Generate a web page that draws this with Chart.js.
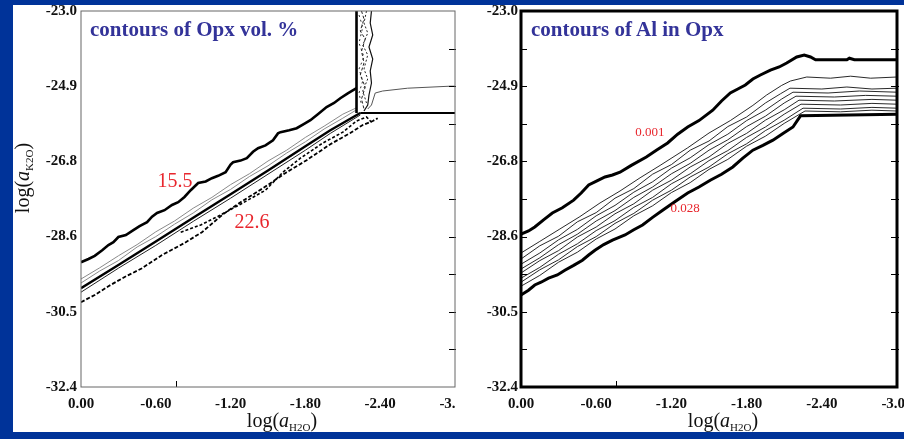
<!DOCTYPE html>
<html>
<head>
<meta charset="utf-8">
<script src="https://cdn.jsdelivr.net/npm/chart.js@4.4.1/dist/chart.umd.min.js"></script>
<style>
  html, body { margin: 0; padding: 0; }
  body { width: 904px; height: 439px; background: #003399; position: relative; overflow: hidden; font-family: "Liberation Serif", "Times New Roman", serif; }
  #sheet { position: absolute; left: 13px; top: 5px; width: 891px; height: 427px; background: #fff; }
  canvas { position: absolute; }
  #left { left: 13px; top: 5px; }
  #right { left: 456px; top: 5px; }
  .ttl { position: absolute; font-weight: bold; font-size: 21px; line-height: 21px; color: #333399; white-space: nowrap; }
  .axt { position: absolute; font-size: 20px; line-height: 20px; color: #111; text-align: center; white-space: nowrap; }
  .axt sub { font-size: 11px; line-height: 0; vertical-align: -4px; }
</style>
</head>
<body>
<div id="sheet"></div>
<canvas id="left" width="443" height="427"></canvas>
<canvas id="right" width="448" height="427"></canvas>
<div class="ttl" style="left:90px;top:19px">contours of Opx vol. %</div>
<div class="ttl" style="left:531px;top:19px">contours of Al in Opx</div>
<div class="axt" style="left:132px;top:410px;width:300px">log(<i>a</i><sub>H2O</sub>)</div>
<div class="axt" style="left:573px;top:410px;width:300px">log(<i>a</i><sub>H2O</sub>)</div>
<div class="axt" style="left:-38px;top:168px;width:120px;transform:rotate(-90deg)">log(<i>a</i><sub>K2O</sub>)</div>
<script>
const xTickValues = [0, -0.6, -1.2, -1.8, -2.4, -3.0]
const xTickLabels = ['0.00', '-0.60', '-1.20', '-1.80', '-2.40', '-3.00']
const yTickValues = [-32.4, -30.52, -28.64, -26.76, -24.88, -23.0]
const yTickLabels = ['-32.4', '-30.5', '-28.6', '-26.8', '-24.9', '-23.0']
const yMinorValues = [-31.46, -30.52, -29.58, -28.64, -27.70, -26.76, -25.82, -24.88, -23.94]
const xInnerTicks = [-0.76]

// left panel: Opx vol. %
const opx155 = [[0,-29.28],[-0.06,-29.20],[-0.11,-29.12],[-0.17,-28.98],[-0.22,-28.85],[-0.26,-28.78],[-0.30,-28.65],[-0.36,-28.60],[-0.42,-28.48],[-0.47,-28.38],[-0.53,-28.28],[-0.57,-28.14],[-0.61,-28.05],[-0.67,-27.98],[-0.73,-27.85],[-0.78,-27.78],[-0.83,-27.65],[-0.88,-27.48],[-0.94,-27.30],[-1.00,-27.26],[-1.05,-27.18],[-1.10,-27.12],[-1.16,-27.03],[-1.20,-26.84],[-1.22,-26.78],[-1.28,-26.74],[-1.33,-26.68],[-1.38,-26.52],[-1.42,-26.43],[-1.48,-26.36],[-1.54,-26.23],[-1.58,-26.06],[-1.60,-26.03],[-1.67,-25.98],[-1.73,-25.93],[-1.79,-25.82],[-1.84,-25.73],[-1.90,-25.58],[-1.97,-25.40],[-2.03,-25.30],[-2.08,-25.18],[-2.14,-25.06],[-2.21,-24.93]]
const opxBandEdge = [[-2.21,-23.0],[-2.21,-25.55]]
const opxBandInner1 = [[-2.25,-23.0],[-2.27,-23.2],[-2.24,-23.5],[-2.28,-23.7],[-2.25,-24.0],[-2.27,-24.3],[-2.24,-24.6],[-2.28,-24.9],[-2.25,-25.2],[-2.27,-25.45]]
const opxBandInner2 = [[-2.29,-23.0],[-2.27,-23.3],[-2.30,-23.55],[-2.26,-23.85],[-2.30,-24.1],[-2.27,-24.45],[-2.30,-24.7],[-2.26,-25.0],[-2.29,-25.3]]
const opxBandInner3 = [[-2.23,-23.1],[-2.26,-23.4],[-2.23,-23.8],[-2.27,-24.15],[-2.23,-24.45],[-2.26,-24.75],[-2.23,-25.05],[-2.25,-25.35]]
const opxBandRight = [[-2.33,-23.0],[-2.32,-23.3],[-2.34,-23.6],[-2.31,-23.9],[-2.34,-24.2],[-2.32,-24.5],[-2.33,-24.8],[-2.31,-25.1],[-2.30,-25.35],[-2.27,-25.5]]
const opxUpperCurve = [[-2.30,-25.45],[-2.33,-25.35],[-2.36,-25.05],[-2.42,-25.00],[-2.62,-24.93],[-2.96,-24.88],[-3.0,-24.88]]
const opxFlat = [[-2.24,-25.55],[-3.0,-25.55]]
const opxGray2 = [[0,-29.70],[-0.15,-29.42],[-0.3,-29.12],[-0.45,-28.84],[-0.6,-28.52],[-0.75,-28.25],[-0.9,-27.93],[-1.05,-27.66],[-1.2,-27.34],[-1.35,-27.07],[-1.5,-26.75],[-1.65,-26.48],[-1.8,-26.16],[-1.95,-25.88],[-2.1,-25.58],[-2.21,-25.42]]
const opxGray1 = [[0,-29.80],[-0.15,-29.50],[-0.3,-29.24],[-0.45,-28.90],[-0.6,-28.64],[-0.75,-28.33],[-0.9,-28.05],[-1.05,-27.72],[-1.2,-27.46],[-1.35,-27.14],[-1.5,-26.87],[-1.65,-26.55],[-1.8,-26.27],[-1.95,-25.95],[-2.1,-25.68],[-2.21,-25.47]]
const opxMain = [[0,-29.93],[-0.3,-29.35],[-0.6,-28.76],[-0.9,-28.17],[-1.2,-27.58],[-1.5,-26.99],[-1.8,-26.38],[-2.0,-25.98],[-2.24,-25.55]]
const opxMainLow = [[0,-30.03],[-0.3,-29.43],[-0.6,-28.86],[-0.9,-28.26],[-1.2,-27.68],[-1.5,-27.08],[-1.8,-26.48],[-2.0,-26.06],[-2.24,-25.60]]
const opxDotUpper = [[-0.80,-28.53],[-0.96,-28.35],[-1.10,-28.13],[-1.28,-27.83],[-1.48,-27.48],[-1.62,-27.03],[-1.76,-26.68],[-1.94,-26.30],[-2.10,-26.03],[-2.21,-25.75],[-2.29,-25.65],[-2.33,-25.78]]
const opx226 = [[0,-30.28],[-0.11,-30.10],[-0.22,-29.88],[-0.35,-29.65],[-0.49,-29.43],[-0.65,-29.10],[-0.83,-28.80],[-0.97,-28.53],[-1.14,-28.08],[-1.28,-27.78],[-1.46,-27.43],[-1.65,-27.03],[-1.81,-26.73],[-2.00,-26.33],[-2.16,-26.05],[-2.26,-25.85],[-2.34,-25.75],[-2.38,-25.68]]

// right panel: Al in Opx
const al001 = [[0,-28.58],[-0.06,-28.50],[-0.11,-28.40],[-0.18,-28.22],[-0.25,-28.05],[-0.33,-27.92],[-0.42,-27.73],[-0.48,-27.55],[-0.54,-27.35],[-0.61,-27.24],[-0.67,-27.15],[-0.73,-27.10],[-0.79,-27.03],[-0.88,-26.86],[-1.00,-26.65],[-1.08,-26.48],[-1.17,-26.30],[-1.25,-26.08],[-1.33,-25.90],[-1.42,-25.74],[-1.53,-25.48],[-1.60,-25.25],[-1.67,-25.05],[-1.73,-24.95],[-1.79,-24.85],[-1.85,-24.70],[-1.91,-24.60],[-1.99,-24.48],[-2.06,-24.40],[-2.12,-24.30],[-2.20,-24.15],[-2.26,-24.10],[-2.31,-24.15],[-2.35,-24.22],[-2.60,-24.22],[-2.62,-24.18],[-2.66,-24.22],[-3.0,-24.22]]
const al002 = [[0,-29.05],[-0.15,-28.76],[-0.31,-28.45],[-0.47,-28.14],[-0.63,-27.80],[-0.79,-27.50],[-0.95,-27.17],[-1.11,-26.86],[-1.33,-26.42],[-1.50,-26.05],[-1.67,-25.74],[-1.85,-25.36],[-1.96,-25.10],[-2.08,-24.86],[-2.15,-24.75],[-2.28,-24.65],[-2.47,-24.68],[-2.63,-24.63],[-2.79,-24.68],[-3.0,-24.65]]
const alC1 = [[0,-29.20],[-0.15,-28.87],[-0.30,-28.63],[-0.45,-28.27],[-0.60,-28.04],[-0.75,-27.68],[-0.90,-27.44],[-1.05,-27.08],[-1.20,-26.84],[-1.35,-26.48],[-1.50,-26.25],[-1.65,-25.89],[-1.80,-25.65],[-1.95,-25.30],[-2.07,-25.07],[-2.146,-24.93],[-2.40,-24.95],[-2.60,-24.90],[-2.80,-24.95],[-3.0,-24.93]]
const alC2 = [[0,-29.33],[-0.15,-29.05],[-0.30,-28.72],[-0.45,-28.46],[-0.60,-28.12],[-0.75,-27.86],[-0.90,-27.53],[-1.05,-27.27],[-1.20,-26.93],[-1.35,-26.67],[-1.50,-26.34],[-1.65,-26.08],[-1.80,-25.74],[-1.95,-25.48],[-2.08,-25.20],[-2.17,-25.03],[-2.45,-25.05],[-2.70,-25.00],[-3.0,-25.03]]
const alC3 = [[0,-29.45],[-0.15,-29.17],[-0.30,-28.84],[-0.45,-28.58],[-0.60,-28.25],[-0.75,-27.99],[-0.90,-27.66],[-1.05,-27.40],[-1.20,-27.07],[-1.35,-26.81],[-1.50,-26.48],[-1.65,-26.22],[-1.80,-25.89],[-1.95,-25.63],[-2.10,-25.30],[-2.194,-25.13],[-2.50,-25.15],[-2.75,-25.11],[-3.0,-25.13]]
const alC4 = [[0,-29.55],[-0.15,-29.24],[-0.30,-28.99],[-0.45,-28.65],[-0.60,-28.40],[-0.75,-28.07],[-0.90,-27.82],[-1.05,-27.48],[-1.20,-27.23],[-1.35,-26.90],[-1.50,-26.65],[-1.65,-26.31],[-1.80,-26.06],[-1.95,-25.73],[-2.10,-25.47],[-2.218,-25.23],[-2.50,-25.25],[-2.80,-25.21],[-3.0,-25.23]]
const alC5 = [[0,-29.68],[-0.15,-29.41],[-0.30,-29.08],[-0.45,-28.82],[-0.60,-28.49],[-0.75,-28.24],[-0.90,-27.91],[-1.05,-27.66],[-1.20,-27.32],[-1.35,-27.07],[-1.50,-26.74],[-1.65,-26.49],[-1.80,-26.16],[-1.95,-25.90],[-2.10,-25.58],[-2.234,-25.33],[-2.55,-25.35],[-2.80,-25.31],[-3.0,-25.33]]
const alC6 = [[0,-29.78],[-0.15,-29.47],[-0.30,-29.22],[-0.45,-28.89],[-0.60,-28.64],[-0.75,-28.31],[-0.90,-28.06],[-1.05,-27.73],[-1.20,-27.48],[-1.35,-27.15],[-1.50,-26.90],[-1.65,-26.57],[-1.80,-26.32],[-1.95,-25.99],[-2.10,-25.73],[-2.25,-25.43],[-2.55,-25.45],[-2.80,-25.41],[-3.0,-25.43]]
const alC7 = [[0,-29.88],[-0.15,-29.61],[-0.30,-29.28],[-0.45,-29.03],[-0.60,-28.70],[-0.75,-28.45],[-0.90,-28.12],[-1.05,-27.87],[-1.20,-27.54],[-1.35,-27.29],[-1.50,-26.96],[-1.65,-26.71],[-1.80,-26.38],[-1.95,-26.13],[-2.10,-25.81],[-2.266,-25.50],[-2.55,-25.52],[-2.80,-25.48],[-3.0,-25.50]]
const al028 = [[0,-30.10],[-0.06,-29.98],[-0.11,-29.85],[-0.16,-29.78],[-0.22,-29.68],[-0.29,-29.60],[-0.35,-29.48],[-0.42,-29.36],[-0.49,-29.23],[-0.54,-29.10],[-0.59,-28.98],[-0.66,-28.84],[-0.73,-28.73],[-0.83,-28.60],[-0.90,-28.47],[-0.97,-28.35],[-1.05,-28.16],[-1.13,-27.98],[-1.23,-27.76],[-1.33,-27.55],[-1.42,-27.40],[-1.51,-27.23],[-1.60,-27.08],[-1.69,-26.90],[-1.77,-26.68],[-1.85,-26.48],[-1.93,-26.36],[-2.01,-26.23],[-2.09,-26.06],[-2.17,-25.90],[-2.23,-25.62],[-3.0,-25.58]]

const opxLabelTexts = ['15.5', '22.6']
const opxLabelAt = [[-0.754, -27.28], [-1.372, -28.30]]
const alLabelTexts = ['0.001', '0.028']
const alLabelAt = [[-1.029, -26.05], [-1.309, -27.95]]

const serif = '"Liberation Serif", "Times New Roman", serif'

function line(points, color, width, dash) {
  return {
    data: points.map(p => ({ x: p[0], y: p[1] })),
    showLine: true,
    borderColor: color,
    borderWidth: width,
    borderDash: dash || [],
    pointRadius: 0,
    tension: 0,
    fill: false
  }
}

const frame = {
  id: 'frame',
  afterDatasetsDraw(chart, args, o) {
    const { ctx, chartArea: a } = chart
    const x = chart.scales.x
    const y = chart.scales.y
    ctx.save()
    ctx.strokeStyle = '#000'
    ctx.lineWidth = 1
    ctx.beginPath()
    yMinorValues.forEach(v => {
      const py = Math.round(y.getPixelForValue(v)) + 0.5
      if (o.inLen) {
        ctx.moveTo(a.left, py)
        ctx.lineTo(a.left + o.inLen, py)
      }
      ctx.moveTo(a.right - 6, py)
      ctx.lineTo(a.right + 2, py)
    })
    xInnerTicks.forEach(v => {
      const px = Math.round(x.getPixelForValue(v)) + 0.5
      ctx.moveTo(px, a.bottom)
      ctx.lineTo(px, a.bottom - 6)
    })
    ctx.stroke()
    ctx.strokeStyle = o.color
    ctx.lineWidth = o.width
    ctx.strokeRect(a.left, a.top, a.right - a.left, a.bottom - a.top)
    ctx.fillStyle = '#e8262d'
    ctx.font = o.labelFont
    ctx.textAlign = 'center'
    ctx.textBaseline = 'middle'
    o.texts.forEach((t, i) => {
      ctx.fillText(t, x.getPixelForValue(o.at[i][0]), y.getPixelForValue(o.at[i][1]))
    })
    ctx.restore()
  }
}

function makeChart(canvas, datasets, yWidth, yPad, padRight, frameOpts) {
  return new Chart(canvas, {
    type: 'scatter',
    data: { datasets },
    options: {
      responsive: false,
      animation: false,
      events: [],
      layout: { padding: { top: 6, right: padRight, bottom: 0, left: 0 } },
      plugins: {
        legend: { display: false },
        tooltip: { enabled: false },
        frame: frameOpts
      },
      scales: {
        x: {
          type: 'linear',
          min: -3,
          max: 0,
          reverse: true,
          border: { display: false },
          grid: { display: false, drawTicks: false },
          ticks: {
            color: '#111',
            font: { family: serif, weight: 'bold', size: 15 },
            padding: 8,
            maxRotation: 0,
            autoSkip: false,
            callback: v => xTickLabels[xTickValues.indexOf(v)]
          },
          afterBuildTicks: s => { s.ticks = xTickValues.map(v => ({ value: v })) },
          afterFit: s => { s.height = 45; s.paddingLeft = 0; s.paddingRight = 0 }
        },
        y: {
          type: 'linear',
          min: -32.4,
          max: -23.0,
          border: { display: false },
          grid: { display: false, drawTicks: false },
          ticks: {
            color: '#111',
            font: { family: serif, weight: 'bold', size: 15 },
            padding: yPad,
            autoSkip: false,
            callback: v => yTickLabels[yTickValues.indexOf(v)]
          },
          afterBuildTicks: s => { s.ticks = yTickValues.map(v => ({ value: v })) },
          afterFit: s => { s.width = yWidth; s.paddingTop = 0; s.paddingBottom = 0 }
        }
      }
    },
    plugins: [frame]
  })
}

const grey = '#8a8a8a'
makeChart(document.getElementById('left'), [
  line(opx155, '#000', 2.6),
  line(opxBandInner1, '#222', 1, [3, 2]),
  line(opxBandInner2, '#222', 1, [2, 2]),
  line(opxBandInner3, '#333', 1, [2, 3]),
  line(opxBandRight, '#111', 1.2),
  line(opxBandEdge, '#000', 2.6),
  line(opxUpperCurve, '#555', 1),
  line(opxFlat, '#000', 2.2),
  line(opxGray2, grey, 1),
  line(opxGray1, grey, 1),
  line(opxMain, '#000', 2.4),
  line(opxMainLow, '#222', 1),
  line(opxDotUpper, '#000', 1.6, [3, 2]),
  line(opx226, '#000', 1.8, [4, 2])
], 68, 4, 1, { color: '#666', width: 1, inLen: 0, labelFont: '20px ' + serif, texts: opxLabelTexts, at: opxLabelAt })

makeChart(document.getElementById('right'), [
  line(al001, '#000', 3),
  line(al002, '#111', 0.9),
  line(alC1, '#111', 0.9),
  line(alC2, '#111', 0.9),
  line(alC3, '#111', 0.9),
  line(alC4, '#111', 0.9),
  line(alC5, '#111', 0.9),
  line(alC6, '#111', 0.9),
  line(alC7, '#111', 0.9),
  line(al028, '#000', 3)
], 65, 3, 7, { color: '#000', width: 3, inLen: 6, labelFont: '13px ' + serif, texts: alLabelTexts, at: alLabelAt })
</script>
</body>
</html>
